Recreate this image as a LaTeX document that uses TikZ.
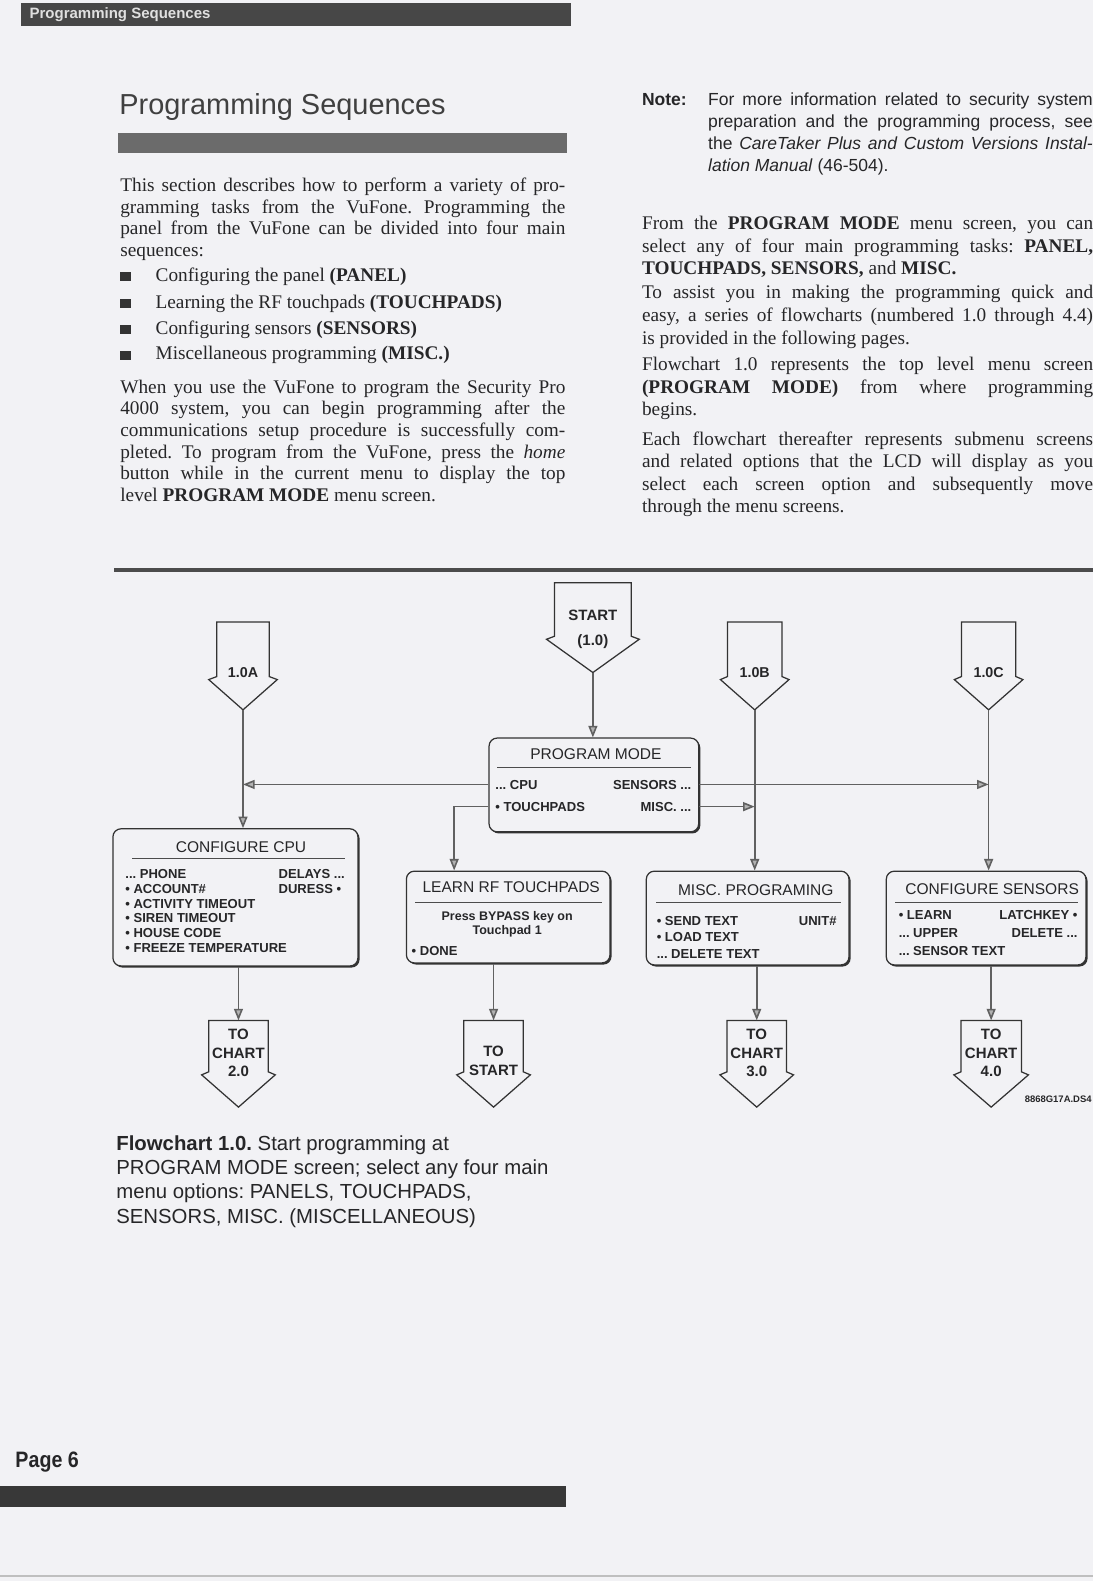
\documentclass[tikz,border=0pt]{standalone}
\usepackage{fontspec}
\setmainfont{Liberation Serif}
\setsansfont{Liberation Sans}
\usetikzlibrary{arrows.meta,shadows}
\definecolor{paper}{RGB}{242,242,245}
\definecolor{ink}{RGB}{38,38,40}
\newcommand\lline[1]{\makebox[249.2pt][s]{#1}}
\newcommand\rline[1]{\makebox[252.6pt][s]{#1}}
\newcommand\nline[1]{\makebox[215.4pt][s]{#1}}
\frenchspacing

\begin{document}
\begin{tikzpicture}[x=0.5646pt,y=-0.5646pt,
  body/.style={anchor=base west,inner sep=0pt,text=ink,font=\fontsize{10.8}{12.4}\selectfont},
  note/.style={anchor=base west,inner sep=0pt,text=ink,font=\sffamily\fontsize{9.8}{12}\selectfont},
  capt/.style={anchor=base west,inner sep=0pt,text=ink,font=\sffamily\fontsize{11.4}{13}\selectfont},
  menubox/.style={draw=black!80,line width=0.7pt,rounded corners=4.5pt,fill=paper,inner sep=0pt,
    general shadow={fill=black!80,shadow xshift=0.9pt,shadow yshift=-0.9pt}},
  mtitle/.style={inner sep=0pt,text=ink,font=\sffamily\fontsize{8.7}{10}\selectfont},
  mitem/.style={inner sep=0pt,text=ink,text height=5.3pt,text depth=0pt,font=\sffamily\bfseries\fontsize{7.3}{8.5}\selectfont},
  boxrule/.style={draw=black!70,line width=0.6pt},
  offpage/.style={draw=black!80,line width=0.7pt,fill=paper,line join=miter},
  clab/.style={inner sep=0pt,text=ink,font=\sffamily\bfseries\fontsize{8.4}{10}\selectfont},
  flow/.style={draw=black!62,line width=0.9pt,-{Triangle[length=6.5pt,width=5pt,fill=black!30]}}]
\path[use as bounding box,fill=paper] (0,0) rectangle (1084,1568);

\fill[black!72] (21,3) rectangle (566,26);
\node[anchor=west,inner sep=0pt,text=white!88!black,font=\sffamily\bfseries\fontsize{8.4}{10}\selectfont] (runhead) at (29,14.7) {Programming Sequences};
\node[anchor=base west,inner sep=0pt,text=black!75,font=\sffamily\fontsize{16.2}{19}\selectfont] (title) at (118,114) {Programming Sequences};
\fill[black!58] (117,132) rectangle (562,152);

\node[body] (l1) at (119,190) {\lline{This section describes how to perform a variety of pro-}};
\node[body] (l2) at (119,211.5) {\lline{gramming tasks from the VuFone. Programming the}};
\node[body] (l3) at (119,233) {\lline{panel from the VuFone can be divided into four main}};
\node[body] (l4) at (119,254.5) {sequences:};
\fill[black!80] (119,270) rectangle (130,279);
\node[body] (b1) at (154,279.3) {Configuring the panel \textbf{(PANEL)}};
\fill[black!80] (119,296.5) rectangle (130,305.5);
\node[body] (b2) at (154,305.7) {Learning the RF touchpads \textbf{(TOUCHPADS)}};
\fill[black!80] (119,322) rectangle (130,331);
\node[body] (b3) at (154,331.3) {Configuring sensors \textbf{(SENSORS)}};
\fill[black!80] (119,348) rectangle (130,357);
\node[body] (b4) at (154,357) {Miscellaneous programming \textbf{(MISC.)}};
\node[body] (l5) at (119,390) {\lline{When you use the VuFone to program the Security Pro}};
\node[body] (l6) at (119,411.5) {\lline{4000 system, you can begin programming after the}};
\node[body] (l7) at (119,433) {\lline{communications setup procedure is successfully com-}};
\node[body] (l8) at (119,454.5) {\lline{pleted. To program from the VuFone, press the \textit{home}}};
\node[body] (l9) at (119,476) {\lline{button while in the current menu to display the top}};
\node[body] (l10) at (119,497.5) {level \textbf{PROGRAM MODE} menu screen.};

\node[note,font=\sffamily\bfseries\fontsize{9.8}{12}\selectfont] (notehead) at (636.4,105) {Note:};
\node[note] (n1) at (702,105) {\nline{For more information related to security system}};
\node[note] (n2) at (702,126.8) {\nline{preparation and the programming process, see}};
\node[note] (n3) at (702,148.6) {\nline{the \textit{CareTaker Plus and Custom Versions Instal-}}};
\node[note] (n4) at (702,170.4) {\textit{lation Manual} (46-504).};

\node[body] (r1) at (636.4,228) {\rline{From the \textbf{PROGRAM MODE} menu screen, you can}};
\node[body] (r2) at (636.4,250.2) {\rline{select any of four main programming tasks: \textbf{PANEL,}}};
\node[body] (r3) at (636.4,272.7) {\textbf{TOUCHPADS, SENSORS,} and \textbf{MISC.}};
\node[body] (r4) at (636.4,296) {\rline{To assist you in making the programming quick and}};
\node[body] (r5) at (636.4,319) {\rline{easy, a series of flowcharts (numbered 1.0 through 4.4)}};
\node[body] (r6) at (636.4,341.2) {is provided in the following pages.};
\node[body] (r7) at (636.4,367.6) {\rline{Flowchart 1.0 represents the top level menu screen}};
\node[body] (r8) at (636.4,390) {\rline{\textbf{(PROGRAM MODE)} from where programming}};
\node[body] (r9) at (636.4,411.6) {begins.};
\node[body] (r10) at (636.4,442) {\rline{Each flowchart thereafter represents submenu screens}};
\node[body] (r11) at (636.4,463.8) {\rline{and related options that the LCD will display as you}};
\node[body] (r12) at (636.4,486) {\rline{select each screen option and subsequently move}};
\node[body] (r13) at (636.4,508) {through the menu screens.};

\fill[black!70] (113,563) rectangle (1084,567);

\draw[offpage] (550,578) -- (550,631) -- (542,634) -- (588,667) -- (634,634) -- (626,631) -- (626,578) -- cycle;
\coordinate (tipS) at (588,667);
\node[clab] (startlab) at (588,610) {START};
\node[clab] (startnum) at (588,636) {(1.0)};
\draw[offpage] (215,617) -- (215,671) -- (207,674) -- (241,704) -- (275,674) -- (267,671) -- (267,617) -- cycle;
\coordinate (tipA) at (241,704);
\node[clab,font=\sffamily\bfseries\fontsize{8}{10}\selectfont] (labA) at (241,667) {1.0A};
\draw[offpage] (721.5,617) -- (721.5,671) -- (714.5,674) -- (748.5,704) -- (782.5,674) -- (775.5,671) -- (775.5,617) -- cycle;
\coordinate (tipB) at (748.5,704);
\node[clab,font=\sffamily\bfseries\fontsize{8}{10}\selectfont] (labB) at (748.5,667) {1.0B};
\draw[offpage] (953.5,617) -- (953.5,671) -- (946.5,674) -- (980.5,704) -- (1014.5,674) -- (1007.5,671) -- (1007.5,617) -- cycle;
\coordinate (tipC) at (980.5,704);
\node[clab,font=\sffamily\bfseries\fontsize{8}{10}\selectfont] (labC) at (980.5,667) {1.0C};

\node[menubox,minimum width=117.4pt,minimum height=52.5pt] (pm) at (589,778.5) {};
\node[mtitle] (pmtitle) at (591,748) {PROGRAM MODE};
\draw[boxrule] (493,761) -- (685,761);
\node[mitem,anchor=west] (pmcpu) at (491,778) {... CPU};
\node[mitem,anchor=east] (pmsens) at (686,778) {SENSORS ...};
\node[mitem,anchor=west] (pmtouch) at (491,800) {• TOUCHPADS};
\node[mitem,anchor=east] (pmmisc) at (686,800) {MISC. ...};

\node[menubox,minimum width=137.2pt,minimum height=76.8pt] (cpu) at (233.5,890) {};
\node[mtitle] (cputitle) at (239,840) {CONFIGURE CPU};
\draw[boxrule] (131,851) -- (342,851);
\node[mitem,anchor=west] (cpu1) at (124,867) {... PHONE};
\node[mitem,anchor=west] (cpu2) at (124,881.5) {• ACCOUNT\#};
\node[mitem,anchor=west] (cpu3) at (124,896) {• ACTIVITY TIMEOUT};
\node[mitem,anchor=west] (cpu4) at (124,910.5) {• SIREN TIMEOUT};
\node[mitem,anchor=west] (cpu5) at (124,925) {• HOUSE CODE};
\node[mitem,anchor=west] (cpu6) at (124,939.5) {• FREEZE TEMPERATURE};
\node[mitem,anchor=west] (cpu7) at (276,867) {DELAYS ...};
\node[mitem,anchor=west] (cpu8) at (276,881.5) {DURESS •};

\node[menubox,minimum width=114pt,minimum height=51.4pt] (learn) at (504,909.5) {};
\node[mtitle] (learntitle) at (507,880) {LEARN RF TOUCHPADS};
\draw[boxrule] (412,895) -- (597,895);
\node[mitem,font=\sffamily\bfseries\fontsize{7}{8}\selectfont] (learn1) at (503,908) {Press BYPASS key on};
\node[mitem,font=\sffamily\bfseries\fontsize{7}{8}\selectfont] (learn2) at (503,922) {Touchpad 1};
\node[mitem,anchor=west] (learn3) at (408,943) {• DONE};

\node[menubox,minimum width=113.5pt,minimum height=52.5pt] (misc) at (741.5,910.5) {};
\node[mtitle] (misctitle) at (749.5,882.5) {MISC. PROGRAMING};
\draw[boxrule] (651,895) -- (834,895);
\node[mitem,anchor=west] (misc1) at (651,913) {• SEND TEXT};
\node[mitem,anchor=west] (misc2) at (651,929.5) {• LOAD TEXT};
\node[mitem,anchor=west] (misc3) at (651,946) {... DELETE TEXT};
\node[mitem,anchor=east] (misc4) at (830,913) {UNIT\#};

\node[menubox,minimum width=111.8pt,minimum height=52.5pt] (sens) at (978,910.5) {};
\node[mtitle] (senstitle) at (984,882) {CONFIGURE SENSORS};
\draw[boxrule] (888,895) -- (1069,895);
\node[mitem,anchor=west] (sens1) at (891,907.5) {• LEARN};
\node[mitem,anchor=west] (sens2) at (891,925.5) {... UPPER};
\node[mitem,anchor=west] (sens3) at (891,943) {... SENSOR TEXT};
\node[mitem,anchor=east] (sens4) at (1069,907.5) {LATCHKEY •};
\node[mitem,anchor=east] (sens5) at (1069,925.5) {DELETE ...};

\draw[flow] (tipS) -- (tipS |- pm.north);
\draw[flow] (tipA) -- (tipA |- cpu.north);
\draw[flow] (tipB) -- (tipB |- misc.north);
\draw[flow] (tipC) -- (tipC |- sens.north);
\draw[flow] (pm.west |- pmcpu) -- (pmcpu -| tipA);
\draw[flow] (pm.east |- pmsens) -- (pmsens -| tipC);
\draw[flow] (pm.east |- pmmisc) -- (pmmisc -| tipB);
\draw[flow] (pm.west |- pmtouch) -| ([xshift=27.1pt]learn.north west);

\draw[offpage] (207,1012) -- (207,1063) -- (200,1066) -- (236.5,1098) -- (273,1066) -- (266,1063) -- (266,1012) -- cycle;
\coordinate (inC2) at (236.5,1012);
\node[clab] (c2a) at (236.5,1026) {TO};
\node[clab] (c2b) at (236.5,1045) {CHART};
\node[clab] (c2c) at (236.5,1063) {2.0};
\draw[offpage] (460,1012) -- (460,1063) -- (453,1066) -- (489.5,1098) -- (526,1066) -- (519,1063) -- (519,1012) -- cycle;
\coordinate (inSt) at (489.5,1012);
\node[clab] (sta) at (489.5,1043) {TO};
\node[clab] (stb) at (489.5,1062) {START};
\draw[offpage] (721,1012) -- (721,1063) -- (714,1066) -- (750.5,1098) -- (787,1066) -- (780,1063) -- (780,1012) -- cycle;
\coordinate (inC3) at (750.5,1012);
\node[clab] (c3a) at (750.5,1026) {TO};
\node[clab] (c3b) at (750.5,1045) {CHART};
\node[clab] (c3c) at (750.5,1063) {3.0};
\draw[offpage] (953,1012) -- (953,1063) -- (946,1066) -- (983,1098) -- (1020,1066) -- (1013,1063) -- (1013,1012) -- cycle;
\coordinate (inC4) at (983,1012);
\node[clab] (c4a) at (983,1026) {TO};
\node[clab] (c4b) at (983,1045) {CHART};
\node[clab] (c4c) at (983,1063) {4.0};

\draw[flow] (cpu.south -| inC2) -- (inC2);
\draw[flow] (learn.south -| inSt) -- (inSt);
\draw[flow] (misc.south -| inC3) -- (inC3);
\draw[flow] (sens.south -| inC4) -- (inC4);

\node[anchor=east,inner sep=0pt,text=ink,font=\sffamily\bfseries\fontsize{5.3}{6}\selectfont] (figcode) at (1083,1090) {8868G17A.DS4};

\node[capt] (cap1) at (115,1141) {\textbf{Flowchart 1.0.} Start programming at};
\node[capt] (cap2) at (115,1165) {PROGRAM MODE screen; select any four main};
\node[capt] (cap3) at (115,1189) {menu options: PANELS, TOUCHPADS,};
\node[capt] (cap4) at (115,1213) {SENSORS, MISC. (MISCELLANEOUS)};

\node[anchor=base west,inner sep=0pt,text=ink,font=\sffamily\bfseries\fontsize{12.5}{14}\selectfont] (pagenum) at (15,1455) {\scalebox{0.88}[1]{Page 6}};
\fill[black!78] (0,1474) rectangle (561,1495);
\draw[black!25,line width=0.6pt] (0,1563) -- (1084,1563);
\end{tikzpicture}
\end{document}
